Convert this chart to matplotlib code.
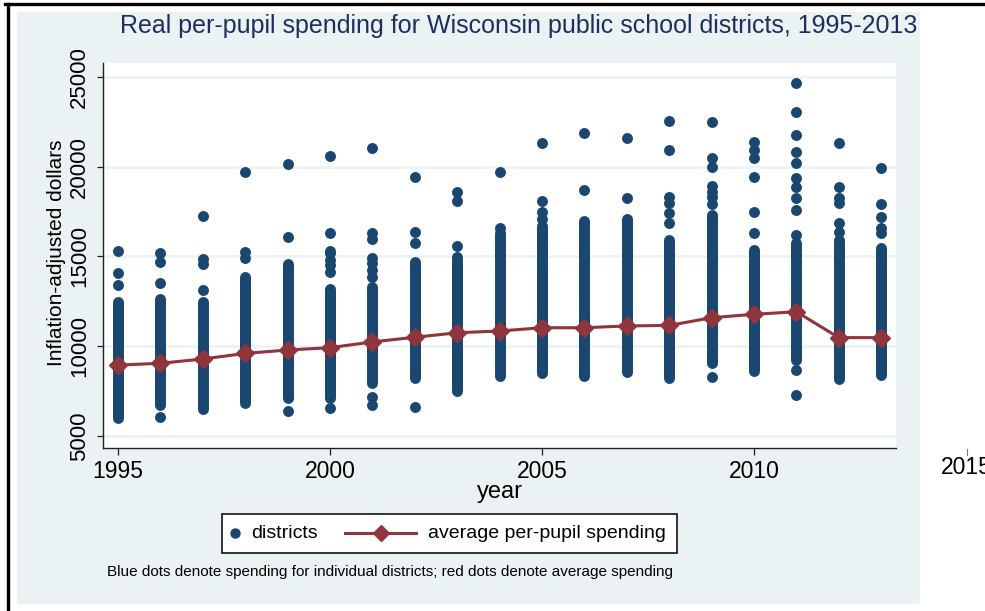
import matplotlib
matplotlib.use('Agg')
import matplotlib.pyplot as plt
from matplotlib.patches import Rectangle
from matplotlib.lines import Line2D

plt.rcParams['font.family'] = ['Liberation Sans', 'DejaVu Sans']

# school years and average real per-pupil spending
years = list(range(1995, 2014))
avg_spending = [8950, 9050, 9290, 9600, 9790, 9920, 10240, 10500, 10750, 10850,
                11030, 11030, 11130, 11160, 11590, 11780, 11920, 10480, 10480]

# dense part of each year's district cloud (low / high end)
band_low = [6000, 6750, 6480, 6850, 7130, 7130, 7960, 8240, 7500, 8330,
            8520, 8340, 8570, 8240, 9080, 8610, 9260, 8150, 8390]
band_high = [12450, 12640, 12460, 13850, 14590, 13200, 13290, 14690, 14780, 16300,
             16700, 17000, 17090, 15920, 17300, 15360, 15750, 15920, 15460]

# districts lying apart from the dense band
dot_years = [1995, 1995, 1995,
             1996, 1996, 1996, 1996,
             1997, 1997, 1997, 1997,
             1998, 1998, 1998,
             1999, 1999, 1999,
             2000, 2000, 2000, 2000, 2000, 2000, 2000, 2000,
             2001, 2001, 2001, 2001, 2001, 2001, 2001, 2001, 2001,
             2002, 2002, 2002, 2002,
             2003, 2003, 2003, 2003,
             2004, 2004,
             2005, 2005, 2005, 2005,
             2006, 2006,
             2007, 2007,
             2008, 2008, 2008, 2008, 2008, 2008,
             2009, 2009, 2009, 2009, 2009, 2009, 2009, 2009,
             2010, 2010, 2010, 2010, 2010, 2010,
             2011, 2011, 2011, 2011, 2011, 2011, 2011, 2011, 2011, 2011, 2011, 2011,
             2012, 2012, 2012, 2012, 2012, 2012,
             2013, 2013, 2013, 2013, 2013]
dot_values = [13410, 14100, 15300,
              6080, 13500, 14700, 15180,
              13130, 14600, 14840, 17270,
              14900, 15230, 19720,
              6390, 16100, 20150,
              6540, 14150, 14520, 14800, 15180, 15300, 16310, 20610,
              6730, 7190, 13850, 14250, 14640, 14900, 15960, 16290, 21020,
              6600, 15730, 16380, 19410,
              14950, 15580, 18090, 18570,
              16600, 19700,
              17100, 17500, 18100, 21300,
              18700, 21900,
              18240, 21580,
              16860, 17420, 17960, 18330, 20910, 22560,
              8300, 17900, 18300, 18590, 18900, 20000, 20460, 22490,
              16290, 17490, 19440, 20470, 20930, 21400,
              7280, 8680, 16200, 17590, 18240, 18890, 19350, 20190, 20840, 21770, 23020, 24640,
              16390, 16850, 17980, 18270, 18890, 21300,
              16310, 16590, 17220, 17920, 19910]

y_ticks = [5000, 10000, 15000, 20000, 25000]
x_ticks = [1995, 2000, 2005, 2010]

NAVY = '#1A476F'
MAROON = '#90353B'
BG = '#EAF2F3'

W, H = 985, 611
fig = plt.figure(figsize=(W / 100, H / 100), dpi=100)
fig.patch.set_facecolor('white')

def fx(px):
    return px / W

def fy(py):
    return 1 - py / H

# graph region background and frame lines
fig.add_artist(Rectangle((fx(17), fy(604)), fx(920) - fx(17), fy(12) - fy(604),
                         facecolor=BG, edgecolor='none', zorder=-10))
fig.add_artist(Line2D([fx(5), 1], [fy(3.5), fy(3.5)], color='black', lw=2.4, zorder=-5))
fig.add_artist(Line2D([fx(8), fx(8)], [0, fy(3.5)], color='black', lw=2.4, zorder=-5))

ax = fig.add_axes([fx(103), fy(448), fx(896) - fx(103), fy(63) - fy(448)])
ax.set_facecolor('white')
ax.set_xlim(1994.646, 2013.349)
ax.set_ylim(4332, 25776)

for side in ['top', 'right']:
    ax.spines[side].set_visible(False)
for side in ['left', 'bottom']:
    ax.spines[side].set_color('#222222')
    ax.spines[side].set_linewidth(1.0)

ax.set_yticks(y_ticks)
ax.set_xticks(x_ticks)
ax.yaxis.grid(True, color=BG, lw=1.8)
ax.set_axisbelow(True)
ax.tick_params(axis='y', length=4.5, width=0.9, pad=5, labelsize=16, color='#222222')
ax.tick_params(axis='x', length=5, width=0.9, pad=4, labelsize=16.5, color='#222222')
plt.setp(ax.get_yticklabels(), rotation=90, va='center')

# districts: dense band plus separate points
ax.vlines(years, band_low, band_high, colors=NAVY, linewidth=7.9,
          capstyle='round', zorder=2)
ax.scatter(dot_years, dot_values, s=62, c=NAVY, linewidths=0, zorder=2)

# average spending
ax.plot(years, avg_spending, color=MAROON, lw=2.2, marker='D', ms=9,
        mec=MAROON, mfc=MAROON, zorder=3)

# 2015 tick sitting outside the plot region
fig.add_artist(Line2D([fx(967), fx(967)], [fy(449), fy(455)], color='#777777', lw=0.8))
fig.text(fx(966), fy(467), '2015', ha='center', va='center', fontsize=16.5)

fig.text(fx(519), fy(33), 'Real per-pupil spending for Wisconsin public school districts, 1995-2013',
         ha='center', va='baseline', fontsize=18, color='#1E2F5E')
fig.text(fx(57), fy(253), 'Inflation-adjusted dollars', rotation=90,
         ha='center', va='center', fontsize=15)
fig.text(fx(500), fy(492), 'year', ha='center', va='center', fontsize=17)

# legend box
fig.add_artist(Rectangle((fx(222), fy(553)), fx(677) - fx(222), fy(514) - fy(553),
                         facecolor='white', edgecolor='black', lw=1.1))
fig.add_artist(Line2D([fx(235)], [fy(533)], marker='o', ms=6.5, color=NAVY, ls='none'))
fig.text(fx(251), fy(533), 'districts', ha='left', va='center', fontsize=14)
fig.add_artist(Line2D([fx(345), fx(416)], [fy(533), fy(533)], color=MAROON, lw=2.2, zorder=3))
fig.add_artist(Line2D([fx(380.5)], [fy(533)], marker='D', ms=8, color=MAROON, ls='none'))
fig.text(fx(428), fy(533), 'average per-pupil spending', ha='left', va='center', fontsize=14)

fig.text(fx(107), fy(572), 'Blue dots denote spending for individual districts; '
         'red dots denote average spending', ha='left', va='center', fontsize=11)

fig.savefig('out.png', dpi=100)
